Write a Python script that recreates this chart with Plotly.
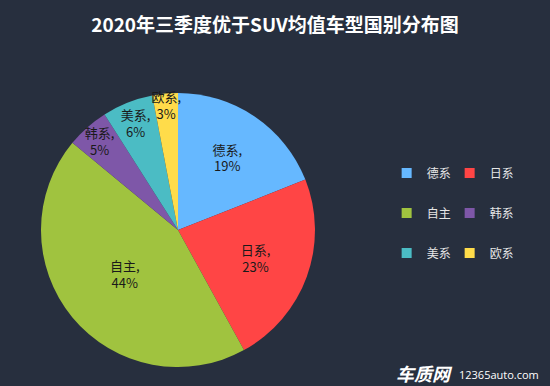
import plotly.graph_objects as go

categories = ["德系", "日系", "自主", "韩系", "美系", "欧系"]
shares = [19, 23, 44, 5, 6, 3]
colors = ["#66b8ff", "#ff4545", "#a0c33f", "#7e57a8", "#4bbcc4", "#ffdc4a"]
title_text = "2020年三季度优于SUV均值车型国别分布图"

FONT = "Noto Sans CJK SC, Microsoft YaHei, sans-serif"
BG = "#272f3e"

fig = go.Figure()
fig.add_trace(go.Pie(
    labels=categories,
    values=shares,
    sort=False,
    direction="clockwise",
    rotation=0,
    marker=dict(colors=colors, line=dict(width=0)),
    texttemplate="%{label},<br>%{percent:.0%}",
    textposition="inside",
    insidetextorientation="horizontal",
    textfont=dict(family=FONT, size=13, color="#1a1a1a"),
    domain=dict(x=[0.0745, 0.5727], y=[0.049, 0.759]),
    showlegend=False,
    hoverinfo="label+percent",
))

# legend entries, two per row, in three legends
legend_names = ["legend", "legend2", "legend3"]
for i, (cat, col) in enumerate(zip(categories, colors)):
    fig.add_trace(go.Scatter(
        x=[None], y=[None], mode="markers", name=cat,
        marker=dict(symbol="square", size=10, color=col),
        legend=legend_names[i // 2], hoverinfo="skip",
    ))

row_y = [0.5894, 0.4858, 0.3821]
legend_common = dict(
    orientation="h", x=0.703, xanchor="left", yanchor="top",
    bgcolor="rgba(0,0,0,0)", font=dict(family=FONT, size=12, color="#e6e6e6"),
    entrywidth=18, itemclick=False, itemdoubleclick=False,
)
fig.update_layout(
    width=550, height=386,
    margin=dict(l=0, r=0, t=0, b=0),
    paper_bgcolor=BG, plot_bgcolor="rgba(0,0,0,0)",
    title=dict(text=title_text, x=0.5, xanchor="center", y=0.935, yanchor="middle",
               font=dict(family=FONT, size=19, color="#ffffff", weight="bold")),
    xaxis=dict(visible=False), yaxis=dict(visible=False),
    uniformtext=dict(minsize=13, mode="show"),
    legend=dict(y=row_y[0], **legend_common),
    legend2=dict(y=row_y[1], **legend_common),
    legend3=dict(y=row_y[2], **legend_common),
    annotations=[
        dict(text="<b><i>车质网</i></b>", x=0.828, y=0.033, xref="paper", yref="paper",
             xanchor="right", yanchor="middle", showarrow=False,
             font=dict(family=FONT, size=18, color="#ffffff")),
        dict(text="12365auto.com", x=0.830, y=0.03, xref="paper", yref="paper",
             xanchor="left", yanchor="middle", showarrow=False,
             font=dict(family="Open Sans", size=11, color="#ffffff")),
    ],
)

fig.write_html("out.html", config={"displayModeBar": False},
               post_script="document.body.style.margin='0';document.body.style.overflow='hidden';")
